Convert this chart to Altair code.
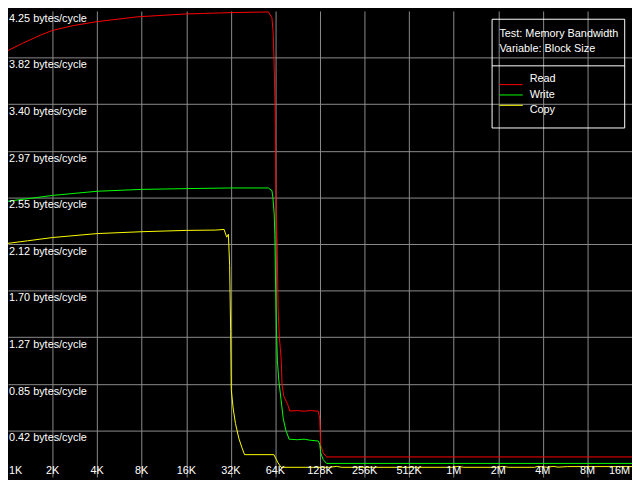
import altair as alt
import pandas as pd

W, H = 632, 472  # chart size (window 640x480 minus 8px page margin)

# ---- data (block size in KB, bandwidth in bytes/cycle) ----
read_kb = [1, 1.255, 1.649, 2, 2.76, 4, 7.51, 16, 32, 50, 57.3, 60.6, 61.8, 62.8, 64.0,
           64.7, 65.7, 66.2, 66.7, 68.0, 69.1, 70.1, 70.9, 73.0, 77.3, 80, 90, 100, 110,
           124.8, 127.5, 129.4, 134.5, 141.7, 16384]
read_bw = [3.890, 3.955, 4.029, 4.073, 4.117, 4.153, 4.197, 4.223, 4.235, 4.240, 4.241,
           4.19, 4.05, 3.74, 3.19, 2.40, 2.13, 1.85, 1.54, 1.275, 1.17, 1.06, 0.84, 0.735,
           0.664, 0.602, 0.606, 0.600, 0.606, 0.600, 0.53, 0.29, 0.22, 0.183, 0.183]

write_kb = [1, 2, 4, 8, 16, 32, 57.3, 60.6, 61.5, 62.8, 63.4, 64.0, 65.0, 66.0, 67.4,
            69.8, 72.3, 75.3, 79.2, 90, 100, 110, 124.8, 127.5, 129.4, 134.5, 141.7, 16384]
write_bw = [2.515, 2.568, 2.606, 2.623, 2.630, 2.636, 2.636, 2.612, 2.55, 2.40, 2.21,
            1.86, 1.355, 1.06, 0.885, 0.708, 0.531, 0.425, 0.345, 0.340, 0.345, 0.335,
            0.328, 0.30, 0.221, 0.159, 0.124, 0.124]

copy_kb = [1, 1.354, 2, 4, 8, 16, 25.3, 28.8, 30.0, 30.8, 31.4, 31.9, 32.2, 33.2, 34.4,
           36.2, 38.05, 39.6, 62.5, 66.4, 69.8, 150, 165, 180, 1000, 1100, 1200, 2000,
           2200, 2400, 3600, 3800, 4400, 4800, 5200, 6000, 16384]
copy_bw = [2.131, 2.154, 2.184, 2.220, 2.237, 2.249, 2.252, 2.258, 2.187, 2.214, 1.93,
           1.328, 0.797, 0.62, 0.487, 0.354, 0.266, 0.204, 0.204, 0.133, 0.0885, 0.0885,
           0.097, 0.0885, 0.0885, 0.097, 0.0885, 0.0885, 0.097, 0.0885, 0.0885, 0.097,
           0.0885, 0.097, 0.090, 0.095, 0.095]

series_names = ["Read", "Write", "Copy"]
series_colors = ["#FF0000", "#00FF00", "#FFFF00"]

x_ticks = [1, 2, 4, 8, 16, 32, 64, 128, 256, 512, 1024, 2048, 4096, 8192, 16384]
x_labels = ["1K", "2K", "4K", "8K", "16K", "32K", "64K", "128K", "256K", "512K",
            "1M", "2M", "4M", "8M", "16M"]
y_ticks = [0.425, 0.85, 1.275, 1.7, 2.125, 2.55, 2.975, 3.4, 3.825, 4.25]
y_labels = ["0.42", "0.85", "1.27", "1.70", "2.12", "2.55", "2.97", "3.40", "3.82", "4.25"]

info_lines = ["Test: Memory Bandwidth", "Variable: Block Size"]

# ---- tables ----
df = pd.concat([
    pd.DataFrame({"kb": read_kb, "bw": read_bw, "series": "Read"}),
    pd.DataFrame({"kb": write_kb, "bw": write_bw, "series": "Write"}),
    pd.DataFrame({"kb": copy_kb, "bw": copy_bw, "series": "Copy"}),
], ignore_index=True)

xt = pd.DataFrame({"kb": x_ticks, "label": x_labels})
yt = pd.DataFrame({"bw": y_ticks, "label": [l + " bytes/cycle" for l in y_labels]})

FONT = "Liberation Sans"
GRID = "#8C8C8C"

def px(v):
    return v * W / 640.0

def py(v):
    return v * H / 480.0

x_scale = alt.Scale(type="log", base=2, domain=[1, 16384], nice=False)
y_scale = alt.Scale(domain=[0, 4.25], nice=False, zero=False)

x_grid_axis = alt.Axis(values=x_ticks[1:-1], grid=True, gridColor=GRID, gridWidth=1,
                       labels=False, ticks=False, domain=False, title=None)
y_grid_axis = alt.Axis(values=y_ticks[:-1], grid=True, gridColor=GRID, gridWidth=1,
                       labels=False, ticks=False, domain=False, title=None)

lines = alt.Chart(df).mark_line(strokeWidth=1, clip=True).encode(
    x=alt.X("kb:Q", scale=x_scale, axis=x_grid_axis),
    y=alt.Y("bw:Q", scale=y_scale, axis=y_grid_axis),
    color=alt.Color("series:N", scale=alt.Scale(domain=series_names, range=series_colors),
                    legend=None),
    order=alt.Order("kb:Q"),
)

ylab = alt.Chart(yt).mark_text(align="left", baseline="alphabetic", dy=11,
                               font=FONT, fontSize=11, color="white").encode(
    x=alt.value(1),
    y=alt.Y("bw:Q", scale=y_scale, axis=None),
    text="label:N",
)

xl_mid = alt.Chart(xt.iloc[1:-1]).mark_text(align="center", baseline="alphabetic",
                                            font=FONT, fontSize=11, color="white").encode(
    x=alt.X("kb:Q", scale=x_scale, axis=x_grid_axis), y=alt.value(H - 3), text="label:N")
xl_first = alt.Chart(xt.iloc[:1]).mark_text(align="left", baseline="alphabetic", dx=1,
                                            font=FONT, fontSize=11, color="white").encode(
    x=alt.X("kb:Q", scale=x_scale, axis=x_grid_axis), y=alt.value(H - 3), text="label:N")
xl_last = alt.Chart(xt.iloc[-1:]).mark_text(align="right", baseline="alphabetic", dx=-2,
                                            font=FONT, fontSize=11, color="white").encode(
    x=alt.X("kb:Q", scale=x_scale, axis=x_grid_axis), y=alt.value(H - 3), text="label:N")

one = pd.DataFrame({"k": [0]})

box = alt.Chart(one).mark_rect(fill="black", fillOpacity=0, stroke="white",
                               strokeWidth=1).encode(
    x=alt.value(px(496.5)), x2=alt.value(px(632.5)),
    y=alt.value(py(8.5)), y2=alt.value(py(120.5)))
divider = alt.Chart(one).mark_rule(color="white", strokeWidth=1).encode(
    x=alt.value(px(496.5)), x2=alt.value(px(632.5)), y=alt.value(py(56.5)))

info = alt.Chart(pd.DataFrame({"t": info_lines})).mark_text(
    align="left", baseline="middle", font=FONT, fontSize=11, color="white").encode(
    x=alt.value(px(504)),
    y=alt.Y("t:N", scale=alt.Scale(domain=info_lines, range=[py(23.5), py(39.5)],
                                   padding=0), axis=None),
    text="t:N")

leg = pd.DataFrame({"series": series_names})
leg_y = alt.Y("series:N", scale=alt.Scale(domain=series_names,
                                          range=[py(70.5), py(102.5)], padding=0),
              axis=None)
leg_lines = alt.Chart(leg).mark_rule(strokeWidth=1).encode(
    x=alt.value(px(504)), x2=alt.value(px(528)), y=leg_y,
    color=alt.Color("series:N", scale=alt.Scale(domain=series_names, range=series_colors),
                    legend=None))
leg_text = alt.Chart(leg).mark_text(align="left", baseline="middle", font=FONT,
                                    fontSize=11, color="white").encode(
    x=alt.value(px(535)), y=leg_y, text="series:N")

chart = alt.layer(
    lines, ylab, xl_mid, xl_first, xl_last, box, divider, info, leg_lines, leg_text
).resolve_scale(y="independent").properties(
    width=W, height=H, background="black", padding=0,
    autosize=alt.AutoSizeParams(type="none"),
).configure_view(fill="black", stroke=None)

chart.save("out.html", embed_options={"renderer": "svg", "actions": False})
